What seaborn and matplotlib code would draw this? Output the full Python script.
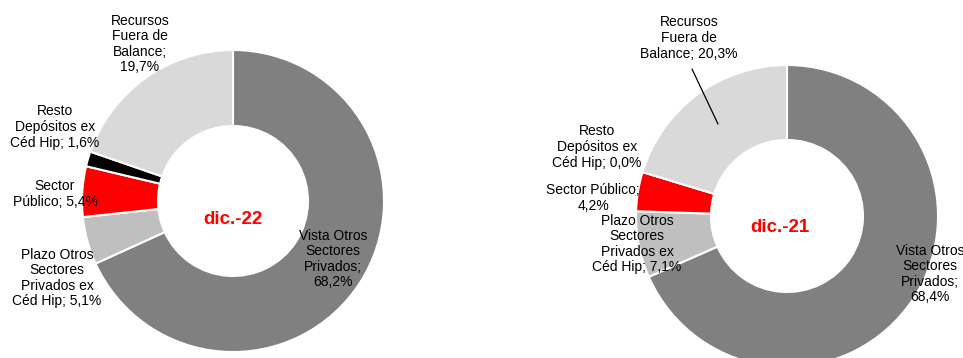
import matplotlib
matplotlib.use("Agg")
import matplotlib.pyplot as plt
import seaborn as sns

sns.set_theme(style="white")
plt.rcParams["font.family"] = ["Liberation Sans", "DejaVu Sans"]

# Deposit / funds composition, December 2022 and December 2021
categories = [
    "Vista Otros\nSectores\nPrivados;",
    "Plazo Otros\nSectores\nPrivados ex\nCéd Hip;",
    "Sector\nPúblico;",
    "Resto\nDepósitos ex\nCéd Hip;",
    "Recursos\nFuera de\nBalance;",
]
categories_21 = [
    "Vista Otros\nSectores\nPrivados;",
    "Plazo Otros\nSectores\nPrivados ex\nCéd Hip;",
    "Sector Público;",
    "Resto\nDepósitos ex\nCéd Hip;",
    "Recursos\nFuera de\nBalance;",
]
values_22 = [68.2, 5.1, 5.4, 1.6, 19.7]
values_21 = [68.4, 7.1, 4.2, 0.0, 20.3]
title_22 = "dic.-22"
title_21 = "dic.-21"

colors = ["#808080", "#BFBFBF", "#FF0000", "#000000", "#D9D9D9"]

W, H = 963, 358
fig = plt.figure(figsize=(W / 100, H / 100), dpi=100)
ax = fig.add_axes([0, 0, 1, 1])


def py(y):
    # pixel row (from top) to axes y
    return H - y


def fmt(v):
    return f"{v:.1f}%".replace(".", ",")


def donut(values, center, radius, width):
    ax.pie(values, colors=colors, startangle=90, counterclock=False,
           center=center, radius=radius,
           wedgeprops=dict(width=width, edgecolor="white", linewidth=1.5))


# Left donut (dic.-22)
donut(values_22, (233, py(201)), 151, 76)
sep_22 = ["\n", " ", " ", " ", "\n"]
pos_22 = [(333, 259), (57, 278), (55, 194), (55, 127), (140, 44)]
for name, v, s, (x, y) in zip(categories, values_22, sep_22, pos_22):
    ax.text(x, py(y), f"{name}{s}{fmt(v)}", ha="center", va="center",
            fontsize=10, color="#000000", linespacing=1.15)
ax.text(233, py(219), title_22, ha="center", va="center", fontsize=13.5,
        fontweight="bold", color="#FF0000")

# Right donut (dic.-21)
donut(values_21, (787, py(216)), 151, 75)
sep_21 = ["\n", " ", "\n", " ", " "]
pos_21 = [(930, 274), (637, 244), (593, 198), (597, 147), (689, 38)]
for name, v, s, (x, y) in zip(categories_21, values_21, sep_21, pos_21):
    ax.text(x, py(y), f"{name}{s}{fmt(v)}", ha="center", va="center",
            fontsize=10, color="#000000", linespacing=1.15)
ax.plot([692, 718], [py(69), py(124)], color="black", linewidth=0.9)
ax.text(780, py(228), title_21, ha="center", va="center", fontsize=13.5,
        fontweight="bold", color="#FF0000")

ax.set_xlim(0, W)
ax.set_ylim(0, H)
ax.set_aspect("equal")
ax.axis("off")

fig.savefig("out.png", dpi=100)
